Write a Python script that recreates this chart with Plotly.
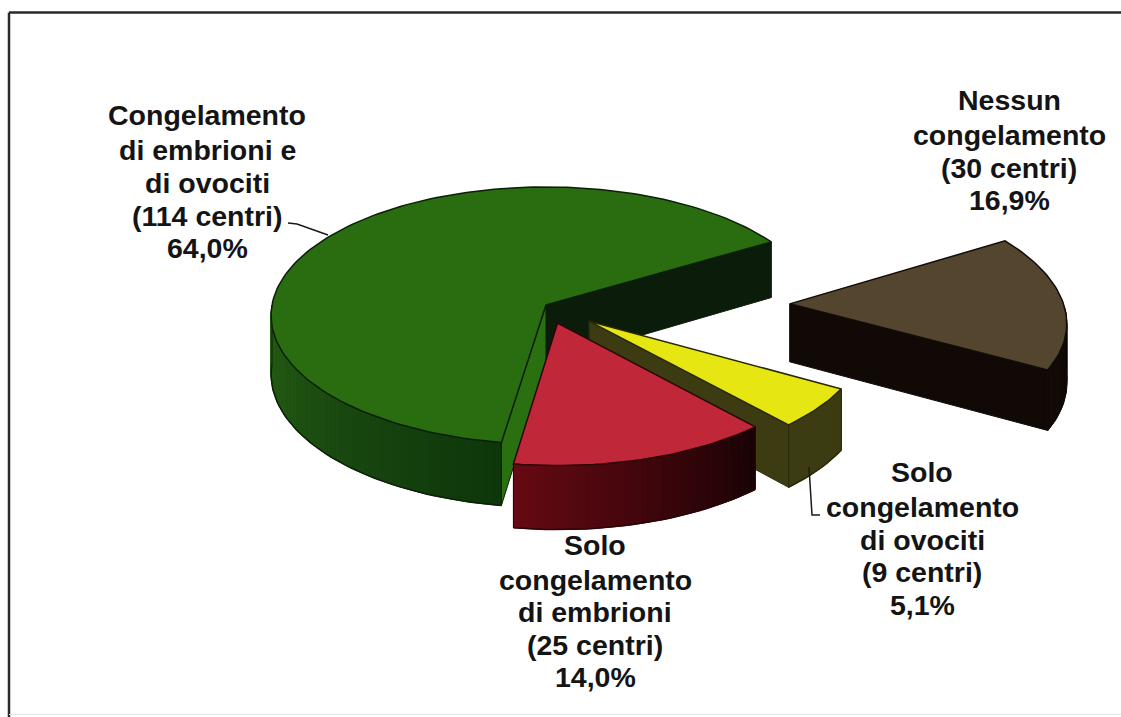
import math
import plotly.graph_objects as go

# ---- data ----
categories = ["Congelamento di embrioni e di ovociti", "Solo congelamento di embrioni",
              "Solo congelamento di ovociti", "Nessun congelamento"]
centres = [114, 25, 9, 30]
percent = [64.0, 14.0, 5.1, 16.9]
label_lines = [
    ["Congelamento", "di embrioni e", "di ovociti", "(114 centri)", "64,0%"],
    ["Solo", "congelamento", "di embrioni", "(25 centri)", "14,0%"],
    ["Solo", "congelamento", "di ovociti", "(9 centri)", "5,1%"],
    ["Nessun", "congelamento", "(30 centri)", "16,9%"],
]

# ---- style / layout ----
W, H = 1121, 717
CX, CY, RX, RY, PERSP, DEPTH = 546, 305, 274, 127.7, 0.082, 58
START = 31.0
pull = [0.0, 0.146, 0.20, 0.89]
top_col = ["#2a6c10", "#c0283a", "#e6e612", "#54452f"]
wall_from = ["#265f14", "#650912", "#3c3b12", "#120a06"]
wall_to = ["#0e360b", "#1a0305", "#3c3b12", "#0c0704"]
face_start_col = ["#0b1c0b", None, "#3c3b12", "#100906"]
face_end_col = ["#2a7010", None, None, None]
edge_col = ["#0c1f08", "#2a0508", "#2a2a08", "#120c08"]
label_pos = [(207, [115, 150, 183, 216, 248]),
             (595, [545, 580, 612, 645, 677]),
             (922, [472, 507, 540, 572, 605]),
             (1009, [100, 135, 168, 200])]
leaders = [([288, 297, 328], [223, 224, 235]), ([809, 812, 820], [467, 515, 515])]
draw_order = [3, 0, 2, 1]


def project(u, v, drop=0.0):
    f = 1.0 / (1.0 + PERSP * v)
    return CX + RX * u * f, CY - RY * v * f + drop * f


def mix(a, b, t):
    ca = [int(a[i:i + 2], 16) for i in (1, 3, 5)]
    cb = [int(b[i:i + 2], 16) for i in (1, 3, 5)]
    return "#%02x%02x%02x" % tuple(round(x + (y - x) * t) for x, y in zip(ca, cb))


def poly(fig, pts, fill, line=None, width=1):
    xs = [p[0] for p in pts] + [pts[0][0]]
    ys = [p[1] for p in pts] + [pts[0][1]]
    fig.add_trace(go.Scatter(x=xs, y=ys, mode="lines", fill="toself", fillcolor=fill,
                             line=dict(color=line or fill, width=width),
                             hoverinfo="skip", showlegend=False))


fig = go.Figure()

spans = []
a = START
total = sum(percent)
for p in percent:
    b = a + 360.0 * p / total
    spans.append((a, b))
    a = b

for i in draw_order:
    a0, a1 = spans[i]
    mid = math.radians((a0 + a1) / 2)
    ou, ov = pull[i] * math.cos(mid), pull[i] * math.sin(mid)
    uv = lambda deg: (ou + math.cos(math.radians(deg)), ov + math.sin(math.radians(deg)))
    n = max(4, int((a1 - a0) / 1.5))
    arc = [a0 + (a1 - a0) * k / n for k in range(n + 1)]

    # flat cut faces that look towards the viewer
    if face_start_col[i] and math.sin(math.radians(a0 - 90)) < 0:
        e = uv(a0)
        poly(fig, [project(ou, ov), project(*e), project(*e, DEPTH), project(ou, ov, DEPTH)],
             face_start_col[i], edge_col[i])
    if face_end_col[i] and math.sin(math.radians(a1 + 90)) < 0:
        e = uv(a1)
        poly(fig, [project(ou, ov), project(*e), project(*e, DEPTH), project(ou, ov, DEPTH)],
             face_end_col[i], edge_col[i])

    # outer wall, shaded along the arc
    visible = [d for d in arc if math.sin(math.radians(d)) < 0.001]
    for k in range(len(visible) - 1):
        d0, d1 = visible[k], visible[k + 1]
        t = k / max(1, len(visible) - 2)
        c = mix(wall_from[i], wall_to[i], t)
        poly(fig, [project(*uv(d0)), project(*uv(d1)), project(*uv(d1), DEPTH), project(*uv(d0), DEPTH)], c)
    if visible:
        xy = [project(*uv(d), DEPTH) for d in visible]
        fig.add_trace(go.Scatter(x=[p[0] for p in xy], y=[p[1] for p in xy], mode="lines",
                                 line=dict(color=edge_col[i], width=1.5),
                                 hoverinfo="skip", showlegend=False))
        for d in (visible[0], visible[-1]):
            fig.add_trace(go.Scatter(x=[project(*uv(d))[0], project(*uv(d), DEPTH)[0]],
                                     y=[project(*uv(d))[1], project(*uv(d), DEPTH)[1]], mode="lines",
                                     line=dict(color=edge_col[i], width=1),
                                     hoverinfo="skip", showlegend=False))

    # top surface
    poly(fig, [project(ou, ov)] + [project(*uv(d)) for d in arc], top_col[i], edge_col[i], 1.5)

for lx, ly in leaders:
    fig.add_trace(go.Scatter(x=lx, y=ly, mode="lines", line=dict(color="#1a1a1a", width=1.5),
                             hoverinfo="skip", showlegend=False))

for (x, ys), lines in zip(label_pos, label_lines):
    for y, line in zip(ys, lines):
        fig.add_annotation(x=x, y=y, text="<b>%s</b>" % line, showarrow=False, xanchor="center",
                           yanchor="middle", font=dict(family="Liberation Sans", size=28.5, color="#141414"))

# frame: left and top edges run to the picture's limits, the bottom edge is faint
fig.add_shape(type="line", x0=9, y0=12.5, x1=W, y1=12.5, line=dict(color="#2a2a2a", width=2.5), layer="below")
fig.add_shape(type="line", x0=9, y0=12.5, x1=9, y1=H, line=dict(color="#2a2a2a", width=2.5), layer="below")
fig.add_shape(type="line", x0=9, y0=714.5, x1=W, y1=714.5, line=dict(color="#e4e4e4", width=1), layer="below")

fig.update_layout(width=W, height=H, margin=dict(l=0, r=0, t=0, b=0),
                  paper_bgcolor="white", plot_bgcolor="white", showlegend=False,
                  xaxis=dict(range=[0, W], visible=False, fixedrange=True),
                  yaxis=dict(range=[H, 0], visible=False, fixedrange=True))
fig.write_html("out.html", config={"displayModeBar": False},
               post_script="document.body.style.margin='0';document.body.style.overflow='hidden';")
